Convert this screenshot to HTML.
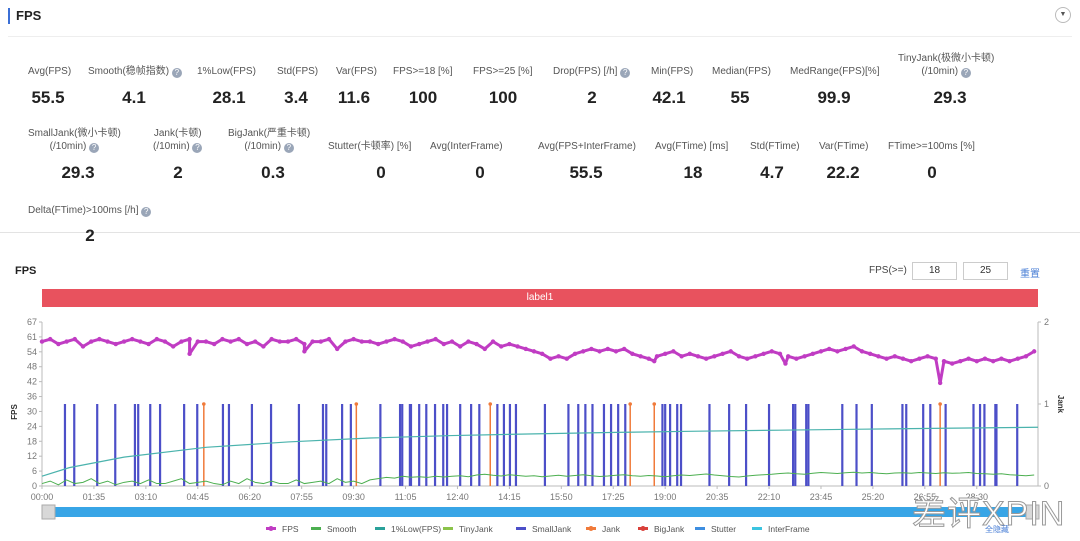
<!DOCTYPE html>
<html><head><meta charset="utf-8">
<style>
body{margin:0;width:1080px;height:541px;background:#fff;position:relative;overflow:hidden;font-family:"Liberation Sans","Noto Sans CJK SC",sans-serif;color:#333}
.a{position:absolute;white-space:nowrap}
.lb{font-size:10px;color:#555;line-height:13px}
.lb.c{text-align:center}
.v{font-size:17px;font-weight:bold;color:#222;transform:translateX(-50%)}
.q{display:inline-block;width:10px;height:10px;border-radius:50%;background:#9aa6b8;color:#fff;font-size:8px;line-height:10px;text-align:center;vertical-align:-1px}
.inp{position:absolute;border:1px solid #ccc;height:16px;width:43px;font-size:10px;text-align:center;line-height:16px;color:#333}
</style></head><body>
<div class="a" style="left:8px;top:8px;width:2px;height:16px;background:#3b6fd6"></div>
<div class="a" style="left:16px;top:8px;font-size:13px;font-weight:bold;color:#222">FPS</div>
<div class="a" style="left:1055px;top:7px;width:14px;height:14px;border:1px solid #bbb;border-radius:50%;font-size:7px;text-align:center;line-height:14px;color:#555">▼</div>
<div class="a" style="left:8px;top:36px;width:1064px;height:1px;background:#eee"></div>
<div class="a" style="left:0;top:232px;width:1080px;height:1px;background:#e3e3e3"></div>

<div class="a lb" style="left:28px;top:65px">Avg(FPS)</div>
<div class="a v" style="left:48px;top:88px">55.5</div>
<div class="a lb" style="left:88px;top:65px">Smooth(稳帧指数) <span class="q">?</span></div>
<div class="a v" style="left:134px;top:88px">4.1</div>
<div class="a lb" style="left:197px;top:65px">1%Low(FPS)</div>
<div class="a v" style="left:229px;top:88px">28.1</div>
<div class="a lb" style="left:277px;top:65px">Std(FPS)</div>
<div class="a v" style="left:296px;top:88px">3.4</div>
<div class="a lb" style="left:336px;top:65px">Var(FPS)</div>
<div class="a v" style="left:354px;top:88px">11.6</div>
<div class="a lb" style="left:393px;top:65px">FPS&gt;=18 [%]</div>
<div class="a v" style="left:423px;top:88px">100</div>
<div class="a lb" style="left:473px;top:65px">FPS&gt;=25 [%]</div>
<div class="a v" style="left:503px;top:88px">100</div>
<div class="a lb" style="left:553px;top:65px">Drop(FPS) [/h] <span class="q">?</span></div>
<div class="a v" style="left:592px;top:88px">2</div>
<div class="a lb" style="left:651px;top:65px">Min(FPS)</div>
<div class="a v" style="left:669px;top:88px">42.1</div>
<div class="a lb" style="left:712px;top:65px">Median(FPS)</div>
<div class="a v" style="left:740px;top:88px">55</div>
<div class="a lb" style="left:790px;top:65px">MedRange(FPS)[%]</div>
<div class="a v" style="left:834px;top:88px">99.9</div>
<div class="a lb c" style="left:898px;top:52px">TinyJank(极微小卡顿)<br>(/10min) <span class="q">?</span></div>
<div class="a v" style="left:950px;top:88px">29.3</div>

<div class="a lb c" style="left:28px;top:127px">SmallJank(微小卡顿)<br>(/10min) <span class="q">?</span></div>
<div class="a v" style="left:78px;top:163px">29.3</div>
<div class="a lb c" style="left:153px;top:127px">Jank(卡顿)<br>(/10min) <span class="q">?</span></div>
<div class="a v" style="left:178px;top:163px">2</div>
<div class="a lb c" style="left:228px;top:127px">BigJank(严重卡顿)<br>(/10min) <span class="q">?</span></div>
<div class="a v" style="left:273px;top:163px">0.3</div>
<div class="a lb" style="left:328px;top:140px">Stutter(卡顿率) [%]</div>
<div class="a v" style="left:381px;top:163px">0</div>
<div class="a lb" style="left:430px;top:140px">Avg(InterFrame)</div>
<div class="a v" style="left:480px;top:163px">0</div>
<div class="a lb" style="left:538px;top:140px">Avg(FPS+InterFrame)</div>
<div class="a v" style="left:586px;top:163px">55.5</div>
<div class="a lb" style="left:655px;top:140px">Avg(FTime) [ms]</div>
<div class="a v" style="left:693px;top:163px">18</div>
<div class="a lb" style="left:750px;top:140px">Std(FTime)</div>
<div class="a v" style="left:772px;top:163px">4.7</div>
<div class="a lb" style="left:819px;top:140px">Var(FTime)</div>
<div class="a v" style="left:843px;top:163px">22.2</div>
<div class="a lb" style="left:888px;top:140px">FTime&gt;=100ms [%]</div>
<div class="a v" style="left:932px;top:163px">0</div>
<div class="a lb" style="left:28px;top:204px">Delta(FTime)&gt;100ms [/h] <span class="q">?</span></div>
<div class="a v" style="left:90px;top:226px">2</div>

<div class="a" style="left:15px;top:265px;font-size:11px;font-weight:bold;color:#222">FPS</div>
<div class="a" style="left:869px;top:265px;font-size:10px;color:#444">FPS(&gt;=)</div>
<div class="inp" style="left:912px;top:262px">18</div>
<div class="inp" style="left:963px;top:262px">25</div>
<div class="a" style="left:1020px;top:265px;font-size:10px;color:#4a7fd6">重置</div>
<div class="a" style="left:42px;top:289px;width:996px;height:18px;background:#e8525e;color:#fff;font-size:10px;text-align:center;line-height:18px">label1</div>

<svg id="chart" class="a" style="left:0;top:0" width="1080" height="541"></svg>
<div class="a" style="left:912px;top:486px;font-size:34px;color:#fff;-webkit-text-stroke:1px #999;letter-spacing:1px">差评XPIN</div>

<script>
const fpsValues=[59,60,58,59,60,57,59,60,59,58, 59,60,59,58,60,59,57,59,60,59, 59,58,60,59,60,58,59,57,60,59, 59,60,58,59,59,60,56,59,60,59, 59,58,59,60,59,57,58,59,60,58, 59,57,59,58,56,59,57,58,57,56, 55,54,52,53,52,54,55,56,55,56, 55,56,54,53,52,53,54,55,53,54, 53,52,53,54,55,53,52,53,54,55, 54,53,52,53,54,55,56,55,56,57, 55,54,53,52,53,52,51,52,53,52, 51,50,51,52,51,52,51,52,51,52, 53,55];
const fpsDips=[[270,54],[480,55],[1360,50],[1120,51],[1643,42.1]];
const smoothValues=[1,2,0.5,2.5,1,1.5,3,1,2,0.5, 1.5,2,1,2.5,1,1,2,3,1,1.5, 2,1,0.5,2,1,3,1.5,1,2,1, 1,2.5,1,1.5,2,1,3,1.5,2,1, 2.5,3,3.5,3.2,4,3.6,3.8,3.5,4,3.7, 4,4.2,3.8,4.5,4.8,4.4,4.1,4.6,4.3,4, 4.2,3.8,4.1,4.4,4,4.3,4.6,4.2,3.9,4.1, 4.4,4.6,4.2,4,4.3,4.1,3.8,4.2,4.5,4.3, 4.6,4.9,4.5,4.2,3.9,3.7,4.1,4.4,4.6,4.8, 5.1,5.3,5,4.8,5.2,5.5,5.3,5.1,5.4,5.6, 5.3,5.5,5.2,5,5.3,5.4,5.2,5.5,5.3,5.1, 5.4,5.2,5.3,5.5,5.1,5,4.8,5,4.6,4.4, 4.2,4.5];
const lowTimes=[0,50,150,300,450,600,750,900,1050,1200,1350,1500,1650,1822];
const lowValues=[4,7.5,11.8,15.8,18,19.6,20.6,21.3,21.9,22.4,22.8,23.2,23.6,24];
const smallJankTimes=[42,59,101,134,170,176,198,216,260,284,331,342,384,419,470,514,520,549,565,619,655,659,673,675,690,703,719,734,741,765,785,800,833,845,856,867,920,963,981,994,1007,1028,1041,1054,1067,1135,1140,1149,1162,1169,1221,1257,1288,1330,1374,1378,1398,1402,1464,1490,1518,1574,1581,1612,1625,1653,1704,1716,1724,1744,1746,1784];
const jankTimes=[296,575,820,1076,1120,1643];
const xTickLabels=['00:00','01:35','03:10','04:45','06:20','07:55','09:30','11:05','12:40','14:15','15:50','17:25','19:00','20:35','22:10','23:45','25:20','26:55','28:30'];
const yTickLabels=['0','6','12','18','24','30','36','42','48','54','61','67'];
const y2TickLabels=['0','1','2'];

const DUR=1822, X0=42, X1=1038, Y0=486, Y1=322, YMAX=67;
const NS='http://www.w3.org/2000/svg';
const svg=document.getElementById('chart');
const xs=t=>X0+(t/DUR)*(X1-X0);
const ys=v=>Y0-(v/YMAX)*(Y0-Y1);
const yj=v=>Y0-(v/2)*(Y0-Y1);
function mk(tag,attrs){const e=document.createElementNS(NS,tag);for(const k in attrs)e.setAttribute(k,attrs[k]);svg.appendChild(e);return e;}

let e=mk('line',{x1:X0,y1:Y1,x2:X0,y2:Y0,stroke:'#bbb'});

e=mk('line',{x1:X1,y1:Y1,x2:X1,y2:Y0,stroke:'#bbb'});

e=mk('line',{x1:X0,y1:Y0,x2:X1,y2:Y0,stroke:'#bbb'});


yTickLabels.forEach((l,i)=>{const y=Y0-i/(yTickLabels.length-1)*(Y0-Y1);
 mk('line',{x1:X0-3,y1:y,x2:X0,y2:y,stroke:'#bbb'});
 const t=mk('text',{x:X0-5,y:y+3,'text-anchor':'end','font-size':9,fill:'#777'});t.textContent=l;
 });
y2TickLabels.forEach((l,i)=>{const y=yj(i);
 mk('line',{x1:X1,y1:y,x2:X1+3,y2:y,stroke:'#bbb'});
 const t=mk('text',{x:X1+6,y:y+3,'font-size':9,fill:'#777'});t.textContent=l;
 });
xTickLabels.forEach((l,i)=>{const x=xs(i*95);
 mk('line',{x1:x,y1:Y0,x2:x,y2:Y0+3,stroke:'#bbb'});
 const t=mk('text',{x:x,y:Y0+14,'text-anchor':'middle','font-size':9,fill:'#777'});t.textContent=l;
 });
e=mk('text',{x:0,y:0,'font-size':8,'font-weight':'bold',fill:'#333',transform:'translate(17,412) rotate(-90)','text-anchor':'middle'});e.textContent='FPS';

e=mk('text',{x:0,y:0,'font-size':8,'font-weight':'bold',fill:'#333',transform:'translate(1058,404) rotate(90)','text-anchor':'middle'});e.textContent='Jank';


smallJankTimes.forEach(t=>{const x=xs(t);
 const l=mk('line',{x1:x,y1:Y0,x2:x,y2:yj(1),stroke:'#4c4fc8','stroke-width':2.2});
 });
jankTimes.forEach(t=>{const x=xs(t);
 const l=mk('line',{x1:x,y1:Y0,x2:x,y2:yj(1),stroke:'#f07a3a','stroke-width':1.5});
 
 const c=mk('circle',{cx:x,cy:yj(1),r:1.8,fill:'#f07a3a'});
 });

let pts=lowTimes.map((t,i)=>xs(t)+','+ys(lowValues[i])).join(' ');
e=mk('polyline',{points:pts,fill:'none',stroke:'#4bb3ad','stroke-width':1.2});

pts=smoothValues.map((v,i)=>xs(i*15)+','+ys(v)).join(' ');
e=mk('polyline',{points:pts,fill:'none',stroke:'#4caf50','stroke-width':1});

const fpsPts=fpsValues.map((v,i)=>[i*15,v]).concat(fpsDips).sort((a,b)=>a[0]-b[0]);
pts=fpsPts.map(p=>xs(p[0])+','+ys(p[1])).join(' ');
e=mk('polyline',{points:pts,fill:'none',stroke:'#c03cc3','stroke-width':3,'stroke-linejoin':'round'});

fpsPts.forEach(p=>{const c=mk('circle',{cx:xs(p[0]),cy:ys(p[1]),r:2.2,fill:'#c03cc3'});
 });

e=mk('rect',{x:X0,y:507,width:X1-X0,height:10,fill:'#38a5e6',rx:2});

e=mk('rect',{x:X0,y:505,width:13,height:14,fill:'#d8d8d8',stroke:'#aaa'});

e=mk('rect',{x:X1-12,y:505,width:13,height:14,fill:'#d8d8d8',stroke:'#aaa'});


const legNames=['FPS','Smooth','1%Low(FPS)','TinyJank','SmallJank','Jank','BigJank','Stutter','InterFrame'];
const legColors=['#c03cc3','#4caf50','#2aa19a','#8bc34a','#4c4fc8','#f07a3a','#d9403a','#3d8ee0','#3bc4e0'];
const legX=[266,311,375,443,516,586,638,695,752];
legNames.forEach((n,i)=>{
 mk('rect',{x:legX[i],y:527,width:10,height:3,fill:legColors[i]});
 if(i===0||i===5||i===6) mk('circle',{cx:legX[i]+5,cy:528.5,r:2.5,fill:legColors[i]});
 const t=mk('text',{x:legX[i]+16,y:532,'font-size':8.5,fill:'#555'});t.textContent=n;
 });
e=mk('text',{x:985,y:532,'font-size':8,fill:'#4a7fd6'});e.textContent='全隐藏';

</script>
</body></html>
